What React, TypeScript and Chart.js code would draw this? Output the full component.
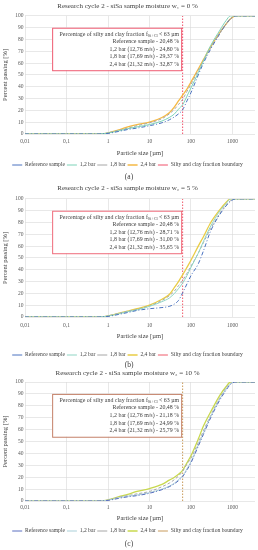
import React, { useEffect, useRef } from "react";
import { Chart, registerables } from "chart.js";
Chart.register(...registerables);

// Particle sizes [µm] shared by all curves
const SIZES = [0.01, 0.1, 0.5, 0.8, 1, 2, 3, 5, 10, 20, 30, 40, 50, 63, 80, 100, 150, 200, 300, 500, 700, 900, 1200, 2000, 3500];
const X_TICKS = [0.01, 0.1, 1, 10, 100, 1000];
const BOUNDARY_X = [63, 63];
const BOUNDARY_Y = [0, 100];
const SERIES_NAMES = ["Reference sample", "1,2 bar", "1,8 bar", "2,4 bar"];
const BOUNDARY_NAME = "Silty and clay fraction boundary";

// Panel (a) w1 = 0 %
const A_REF = [0, 0, 0, 0.2, 0.5, 2.5, 3.8, 5, 7, 9.5, 12, 14.5, 17, 20.48, 28, 35, 50, 60, 72, 85, 93, 97.5, 100, 100, 100];
const A_12 = [0, 0, 0, 0.3, 0.8, 3, 4.5, 6, 8, 11, 14, 17, 21, 24.8, 32, 39, 52, 62, 75, 88, 96, 100, 100, 100, 100];
const A_18 = [0, 0, 0, 0.3, 1, 3.5, 5, 7, 9.5, 13, 17, 21, 25, 29.37, 36, 42, 54, 62, 73, 86, 93, 97.5, 100, 100, 100];
const A_24 = [0, 0, 0, 0.4, 1, 4, 6, 8, 10, 14, 18, 23, 28, 32.87, 38, 44, 55, 63, 74, 86, 93, 97.5, 100, 100, 100];

// Panel (b) w2 = 5 %
const B_REF = [0, 0, 0, 0.2, 0.5, 2.5, 3.8, 5.5, 7, 8, 9, 11, 14, 20.48, 28, 35, 45, 56, 73, 87, 94, 98, 100, 100, 100];
const B_12 = [0, 0, 0, 0.3, 0.8, 3, 4.5, 6, 9, 13, 16, 20, 24, 28.71, 35, 42, 54, 64, 77, 90, 96, 100, 100, 100, 100];
const B_18 = [0, 0, 0, 0.3, 1, 3.5, 5, 6.5, 9.5, 14, 18, 22, 26.5, 31.0, 37, 43, 54, 63, 75, 88, 95, 98.5, 100, 100, 100];
const B_24 = [0, 0, 0, 0.4, 1, 3.5, 5, 7, 10, 15, 19, 25, 30, 35.65, 42, 48, 60, 68, 80, 91, 97, 100, 100, 100, 100];

// Panel (c) w3 = 10 %
const C_REF = [0, 0, 0, 0.2, 0.5, 2.5, 3.5, 4.5, 6.5, 9.5, 12, 14.5, 17, 20.48, 26, 32, 46, 56, 70, 85, 93, 98, 100, 100, 100];
const C_12 = [0, 0, 0, 0.2, 0.6, 3, 4, 5, 7, 10, 12.5, 15, 18, 21.18, 27, 33, 47, 57, 71, 86, 94, 98.5, 100, 100, 100];
const C_18 = [0, 0, 0, 0.3, 0.8, 3.5, 4.5, 6, 8, 12, 15, 18, 21, 24.99, 31, 36, 49, 59, 72, 87, 95, 99, 100, 100, 100];
const C_24 = [0, 0, 0, 0.4, 1, 4, 5.5, 8, 10.5, 14, 17.5, 20, 22.5, 25.79, 32, 38, 52, 63, 75, 89, 96, 100, 100, 100, 100];

const TITLES = [
  "Research cycle 2 - siSa sample moisture w\u2081 = 0 %",
  "Research cycle 2 - siSa sample moisture w\u2082 = 5 %",
  "Research cycle 2 - siSa sample moisture w\u2083 = 10 %",
];
const PANEL_LABELS = ["(a)", "(b)", "(c)"];
const BOX_HEAD = ["Percentage of silty and clay fraction f", "Si+Cl", " < 63 \u00b5m"];
const BOX_A = ["Reference sample - 20,48 %", "1,2 bar (12,76 m/s) - 24,80 %", "1,8 bar (17,69 m/s) - 29,37 %", "2,4 bar (21,32 m/s) - 32,87 %"];
const BOX_B = ["Reference sample - 20,48 %", "1,2 bar (12,76 m/s) - 28,71 %", "1,8 bar (17,69 m/s) - 31,00 %", "2,4 bar (21,32 m/s) - 35,65 %"];
const BOX_C = ["Reference sample - 20,48 %", "1,2 bar (12,76 m/s) - 21,18 %", "1,8 bar (17,69 m/s) - 24,99 %", "2,4 bar (21,32 m/s) - 25,79 %"];

const SERIF = "'Liberation Serif', 'DejaVu Serif', serif";

type Lay = { padTop: number; titleBottom: number; tickLen: number; xtTop: number; xtBottom: number; padBottom: number; labelOffset: number };

type PanelCfg = {
  series: number[][];
  title: string;
  label: string;
  box: string[];
  colors: string[];
  boundaryColor: string;
  boxColor: string;
  height: number;
  top: number;
  lay: Lay;
};

const PANELS: PanelCfg[] = [
  {
    series: [A_REF, A_12, A_18, A_24], title: TITLES[0], label: PANEL_LABELS[0], box: BOX_A,
    colors: ["#4a72c0", "#7dd3b8", "#a6a6a6", "#f5b944"], boundaryColor: "#f0506a", boxColor: "#ee5a70",
    height: 183, top: 0,
    lay: { padTop: 1.5, titleBottom: 6, tickLen: 4.7, xtTop: 3.8, xtBottom: 3.3, padBottom: 5.2, labelOffset: 43 },
  },
  {
    series: [B_REF, B_12, B_18, B_24], title: TITLES[1], label: PANEL_LABELS[1], box: BOX_B,
    colors: ["#4a72c0", "#8fd5c4", "#a6a6a6", "#e9cc45"], boundaryColor: "#ef5b6a", boxColor: "#ef6a7a",
    height: 186, top: 183,
    lay: { padTop: 1, titleBottom: 6.5, tickLen: 5.7, xtTop: 2.8, xtBottom: 10.3, padBottom: 1.2, labelOffset: 48 },
  },
  {
    series: [C_REF, C_12, C_18, C_24], title: TITLES[2], label: PANEL_LABELS[2], box: BOX_C,
    colors: ["#5b6fc0", "#a9cfd8", "#a6a6a6", "#c8d84e"], boundaryColor: "#c89a5a", boxColor: "#c48068",
    height: 181, top: 369,
    lay: { padTop: 0, titleBottom: 4.6, tickLen: 3.3, xtTop: 3.8, xtBottom: 3.7, padBottom: 6.2, labelOffset: 43 },
  },
];

const DASHES = [[4, 2, 1, 2], [], [3, 2], []];

function makeBoxPlugin(cfg: PanelCfg) {
  return {
    id: "infoBox",
    afterDatasetsDraw(chart: any) {
      const { ctx, scales } = chart;
      const xs = scales.x, ys = scales.y;
      const left = xs.getPixelForValue(0.045);
      const right = xs.getPixelForValue(58);
      const top = ys.getPixelForValue(90);
      const bottom = ys.getPixelForValue(54);
      const h = bottom - top;
      ctx.save();
      ctx.fillStyle = "#ffffff";
      ctx.fillRect(left, top, right - left, h);
      ctx.strokeStyle = cfg.boxColor;
      ctx.lineWidth = 1;
      ctx.strokeRect(left + 0.5, top + 0.5, right - left, h);
      ctx.fillStyle = "#404040";
      ctx.textBaseline = "middle";
      const tx = right - 2;
      const fs = 5.9;
      const mainFont = `${fs}px ${SERIF}`;
      const subFont = `${fs * 0.7}px ${SERIF}`;
      const y0 = top + h * 0.15;
      ctx.font = mainFont;
      const w1 = ctx.measureText(BOX_HEAD[0]).width;
      const w3 = ctx.measureText(BOX_HEAD[2]).width;
      ctx.font = subFont;
      const w2 = ctx.measureText(BOX_HEAD[1]).width;
      let x = tx - (w1 + w2 + w3);
      ctx.textAlign = "left";
      ctx.font = mainFont;
      ctx.fillText(BOX_HEAD[0], x, y0);
      x += w1;
      ctx.font = subFont;
      ctx.fillText(BOX_HEAD[1], x, y0 + 1.5);
      x += w2;
      ctx.font = mainFont;
      ctx.fillText(BOX_HEAD[2], x, y0);
      ctx.textAlign = "right";
      cfg.box.forEach((line, i) => {
        ctx.fillText(line, tx, top + h * (0.15 + (i + 1) * 0.178));
      });
      ctx.restore();
    },
    afterDraw(chart: any) {
      const { ctx, chartArea, width } = chart;
      ctx.save();
      ctx.fillStyle = "#404040";
      ctx.font = `7.5px ${SERIF}`;
      ctx.textAlign = "center";
      ctx.textBaseline = "middle";
      ctx.fillText(cfg.label, width / 2, chartArea.bottom + cfg.lay.labelOffset);
      ctx.restore();
    },
  };
}

function Panel({ cfg }: { cfg: PanelCfg }) {
  const ref = useRef<HTMLCanvasElement | null>(null);
  useEffect(() => {
    if (!ref.current) return;
    const L = cfg.lay;
    const datasets: any[] = cfg.series.map((vals, i) => ({
      label: SERIES_NAMES[i],
      data: SIZES.map((s, j) => ({ x: s, y: vals[j] })),
      borderColor: cfg.colors[i],
      backgroundColor: cfg.colors[i],
      borderWidth: i === 3 ? 1.3 : 1,
      borderDash: DASHES[i],
      pointRadius: 0,
      showLine: true,
      cubicInterpolationMode: "monotone",
    }));
    datasets.push({
      label: BOUNDARY_NAME,
      data: BOUNDARY_X.map((x, j) => ({ x, y: BOUNDARY_Y[j] })),
      borderColor: cfg.boundaryColor,
      backgroundColor: cfg.boundaryColor,
      borderWidth: 1,
      borderDash: [1.5, 1.5],
      pointRadius: 0,
      showLine: true,
    });
    const chart = new Chart(ref.current, {
      type: "scatter",
      data: { datasets },
      plugins: [makeBoxPlugin(cfg)],
      options: {
        animation: false,
        responsive: false,
        maintainAspectRatio: false,
        layout: { padding: { left: 0, right: 3, top: L.padTop, bottom: L.padBottom } },
        scales: {
          x: {
            type: "logarithmic",
            min: 0.01,
            max: 3500,
            afterBuildTicks: (axis: any) => {
              axis.ticks = X_TICKS.map((v) => ({ value: v }));
            },
            ticks: {
              autoSkip: false,
              maxRotation: 0,
              padding: 0,
              color: "#595959",
              font: { size: 5.5, family: SERIF },
              callback: (v: any) => String(v).replace(".", ","),
            },
            grid: { color: "#d9d9d9", lineWidth: 0.6, drawTicks: true, tickLength: L.tickLen, tickColor: "rgba(0,0,0,0)" },
            border: { display: false },
            title: { display: true, text: "Particle size [\u00b5m]", color: "#404040", font: { size: 6.5, family: SERIF }, padding: { top: L.xtTop, bottom: L.xtBottom } },
          },
          y: {
            min: 0,
            max: 100,
            ticks: { stepSize: 10, padding: 1.5, color: "#595959", font: { size: 5.5, family: SERIF } },
            grid: { color: "#d9d9d9", lineWidth: 0.6, drawTicks: false },
            border: { display: false },
            title: { display: true, text: "Percent passing [%]", color: "#404040", font: { size: 6.5, family: SERIF }, padding: { top: 1.5, bottom: 4.5 } },
          },
        },
        plugins: {
          title: { display: true, text: cfg.title, color: "#404040", font: { size: 7, family: SERIF, weight: "normal" }, padding: { top: 0, bottom: L.titleBottom } },
          legend: {
            position: "bottom",
            labels: {
              usePointStyle: true,
              pointStyle: "line",
              pointStyleWidth: 10,
              padding: 2,
              color: "#404040",
              font: { size: 5.6, family: SERIF },
            },
          },
          tooltip: { enabled: false },
        },
      } as any,
    });
    return () => chart.destroy();
  }, [cfg]);
  return (
    <canvas
      ref={ref}
      width={258}
      height={cfg.height}
      style={{ position: "absolute", left: 0, top: cfg.top, width: 258, height: cfg.height }}
    />
  );
}

export default function App() {
  return (
    <div style={{ position: "absolute", left: 0, top: 0, width: 258, height: 550, background: "#fff" }}>
      {PANELS.map((p, i) => (
        <Panel key={i} cfg={p} />
      ))}
    </div>
  );
}
